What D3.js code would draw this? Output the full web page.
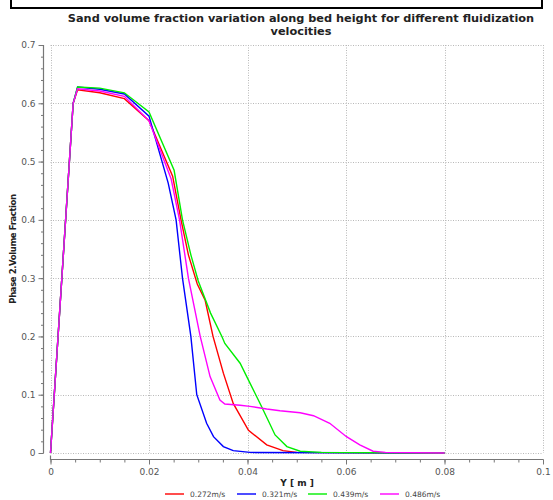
<!DOCTYPE html>
<html><head><meta charset="utf-8">
<script src="https://cdn.jsdelivr.net/npm/d3@7"></script>
<style>body{margin:0;background:#fff}svg{display:block}</style>
</head><body>
<svg id="c" width="553" height="500"></svg>
<script>
const seriesNames = ["0.272m/s","0.321m/s","0.439m/s","0.486m/s"];
const seriesColors = ["#ff0000","#0000ff","#00ee00","#ff00ff"];
const redX = [0,0.0046,0.0055,0.01,0.015,0.02,0.0248,0.0265,0.028,0.0298,0.0314,0.033,0.0351,0.0371,0.0402,0.0439,0.0472,0.05,0.08];
const redY = [0,0.60,0.623,0.618,0.608,0.570,0.475,0.40,0.34,0.29,0.262,0.20,0.137,0.085,0.039,0.014,0.004,0.001,0];
const blueX = [0,0.0046,0.0055,0.01,0.015,0.02,0.0239,0.0255,0.0268,0.0285,0.0297,0.0317,0.0331,0.0351,0.0371,0.0405,0.08];
const blueY = [0,0.60,0.628,0.624,0.616,0.578,0.463,0.40,0.30,0.20,0.10,0.051,0.028,0.011,0.004,0.001,0];
const greenX = [0,0.0046,0.0055,0.01,0.015,0.02,0.0251,0.0268,0.0285,0.030,0.0325,0.0348,0.0354,0.0385,0.0402,0.0429,0.0456,0.048,0.0507,0.055,0.08];
const greenY = [0,0.60,0.628,0.626,0.618,0.585,0.485,0.40,0.34,0.295,0.24,0.20,0.188,0.154,0.125,0.079,0.031,0.011,0.003,0.001,0];
const magX = [0,0.0046,0.0055,0.01,0.015,0.02,0.0245,0.0262,0.028,0.0304,0.0324,0.0344,0.0354,0.0385,0.0405,0.0439,0.0466,0.0507,0.0534,0.0567,0.0601,0.0628,0.0655,0.068,0.08];
const magY = [0,0.60,0.625,0.621,0.612,0.570,0.47,0.40,0.30,0.20,0.131,0.091,0.084,0.082,0.080,0.0755,0.0726,0.069,0.064,0.051,0.028,0.014,0.003,0.001,0];
const xTicks = [0,0.02,0.04,0.06,0.08,0.1];
const yTicks = [0,0.1,0.2,0.3,0.4,0.5,0.6,0.7];
const titleLines = ["Sand volume fraction variation along bed height for different fluidization","velocities"];
const xTitle = "Y [ m ]";
const yTitle = "Phase 2.Volume Fraction";

const series = [[redX,redY],[blueX,blueY],[greenX,greenY],[magX,magY]];
const svg = d3.select("#c");
const x = d3.scaleLinear().domain([0,0.1]).range([50.5,543]);
const y = d3.scaleLinear().domain([0,0.7]).range([453,45]);
const font = "DejaVu Sans, Verdana, sans-serif";

// top box
svg.append("rect").attr("x",11).attr("y",-5).attr("width",531).attr("height",13)
  .attr("fill","#fff").attr("stroke","#000").attr("stroke-width",2);

// title
svg.append("g").selectAll("text").data(titleLines).join("text")
  .attr("x",301).attr("y",(d,i)=>22+i*13).attr("text-anchor","middle")
  .attr("font-family",font).attr("font-weight","bold").attr("font-size",11.3).attr("fill","#222").text(d=>d);

// grid
const grid = svg.append("g").attr("stroke","#b8b8b8").attr("stroke-width",1).attr("stroke-dasharray","1,1.5");
grid.selectAll("line.v").data(xTicks).join("line").attr("class","v")
  .attr("x1",d=>Math.round(x(d))+0.5).attr("x2",d=>Math.round(x(d))+0.5).attr("y1",y(0.7)).attr("y2",y(0));
grid.selectAll("line.h").data(yTicks).join("line").attr("class","h")
  .attr("x1",x(0)).attr("x2",x(0.1)).attr("y1",d=>Math.round(y(d))+0.5).attr("y2",d=>Math.round(y(d))+0.5);

// axes
const axColor = "#777";
const yAxisX = 43.5, xAxisY = 459.5;
const yMinor = d3.range(0,0.7001,0.02);
const xMinor = d3.range(0,0.1001,0.005);
const gy = svg.append("g").attr("transform",`translate(${yAxisX},0)`)
  .call(d3.axisLeft(y).tickValues(yMinor).tickSize(2.5).tickFormat(""));
const gy2 = svg.append("g").attr("transform",`translate(${yAxisX},0)`)
  .call(d3.axisLeft(y).tickValues(yTicks).tickSize(5).tickFormat(d3.format("~g")));
const gx = svg.append("g").attr("transform",`translate(0,${xAxisY})`)
  .call(d3.axisBottom(x).tickValues(xMinor).tickSize(3).tickFormat(""));
const gx2 = svg.append("g").attr("transform",`translate(0,${xAxisY})`)
  .call(d3.axisBottom(x).tickValues(xTicks).tickSize(5).tickFormat(d3.format("~g")));
[gy,gy2,gx,gx2].forEach(g=>{
  g.selectAll("path").attr("stroke",axColor).attr("stroke-width",1.2);
  g.selectAll("line").attr("stroke",axColor);
  g.selectAll("text").attr("fill","#555").attr("font-family",font).attr("font-size",9);
});
gy.select("path").remove(); gx.select("path").remove();
gy2.select("path").attr("d",`M0,${y(0.7)}V${y(0)}`);
gx2.select("path").attr("d",`M${x(0)},-4V0H${x(0.1)}`);
gy2.selectAll("text").attr("x",-8);
gx2.selectAll("text").attr("y",9);

// lines
const line = d3.line().x(d=>x(d[0])).y(d=>y(d[1]));
svg.append("g").selectAll("path").data(series).join("path")
  .attr("d",s=>line(s[0].map((v,i)=>[v,s[1][i]])))
  .attr("fill","none").attr("stroke",(d,i)=>seriesColors[i]).attr("stroke-width",1.4);

// axis titles
svg.append("text").attr("x",297).attr("y",486).attr("text-anchor","middle")
  .attr("font-family",font).attr("font-weight","bold").attr("font-size",9).attr("fill","#222").text(xTitle);
svg.append("text").attr("transform","translate(16,249) rotate(-90)").attr("text-anchor","middle")
  .attr("font-family",font).attr("font-size",8.5).attr("font-weight","bold").attr("letter-spacing",-0.4).attr("fill","#222").text(yTitle);

// legend
const legX = [165,237,308,380];
const lg = svg.append("g").selectAll("g").data(seriesNames).join("g")
  .attr("transform",(d,i)=>`translate(${legX[i]},494)`);
lg.append("line").attr("x1",0).attr("x2",19).attr("y1",0).attr("y2",0)
  .attr("stroke",(d,i)=>seriesColors[i]).attr("stroke-width",1.4);
lg.append("text").attr("x",25).attr("y",3).attr("font-family",font).attr("font-size",7.5).attr("fill","#444").text(d=>d);
</script>
</body></html>
